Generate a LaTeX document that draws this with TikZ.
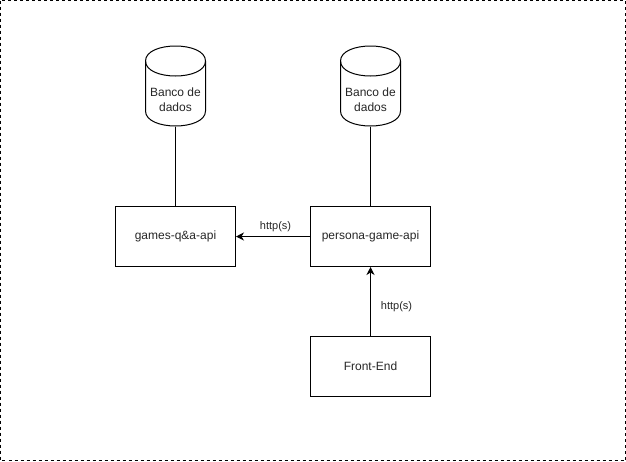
\documentclass[tikz,border=0pt]{standalone}
\usepackage{fontspec}
\setmainfont{Liberation Sans}
\usetikzlibrary{arrows.meta}
\tikzset{
  x=1pt,y=-1pt,
  every path/.style={line width=1pt},
  box/.style={draw=black,line width=1pt,minimum width=120pt,minimum height=60pt,inner sep=0pt,text=black!85,font=\fontsize{12}{14}\selectfont},
  dbnode/.style={minimum width=60pt,minimum height=80pt,inner sep=0pt,align=center,text=black!85,font=\fontsize{12}{15}\selectfont},
  dbshape/.style={draw=black,line width=1pt},
  link/.style={draw=black,line width=1pt},
  arrowlink/.style={link,-{Stealth[length=8pt,width=8pt,inset=2.5pt]}},
  edgelabel/.style={inner sep=0pt,text=black!85,font=\fontsize{11}{13}\selectfont}
}
\newcommand{\dbdraw}[1]{%
  \draw[dbshape,shift={(#1,46)}] (0,15) .. controls (0,-5) and (60,-5) .. (60,15) -- (60,65) .. controls (60,85) and (0,85) .. (0,65) -- cycle;
  \draw[dbshape,shift={(#1,46)}] (0,15) .. controls (0,35) and (60,35) .. (60,15);
}
\begin{document}
\begin{tikzpicture}
\useasboundingbox (0,0) rectangle (626,461);
\draw[black,line width=1pt,dash pattern=on 3pt off 3pt] (0.5,0.5) rectangle (625.5,460.5);
\dbdraw{145.5}
\dbdraw{340.5}
\node[dbnode] (dbA) at (175.5,86) {};
\node[dbnode] (dbB) at (370.5,86) {};
\node[dbnode] at (175.5,99.5) {Banco de\\dados};
\node[dbnode] at (370.5,99.5) {Banco de\\dados};
\node[box] (games) at (175.5,236.5) {games-q\&a-api};
\node[box] (persona) at (370.5,236.5) {persona-game-api};
\node[box] (front) at (370.5,366.5) {Front-End};
\draw[link] (dbA.south) -- (games.north);
\draw[link] (dbB.south) -- (persona.north);
\draw[arrowlink] (persona.west) -- (games.east);
\draw[arrowlink] (front.north) -- (persona.south);
\node[edgelabel] at (275.5,227) {http(s)};
\node[edgelabel] at (396.5,307) {http(s)};
\end{tikzpicture}
\end{document}
